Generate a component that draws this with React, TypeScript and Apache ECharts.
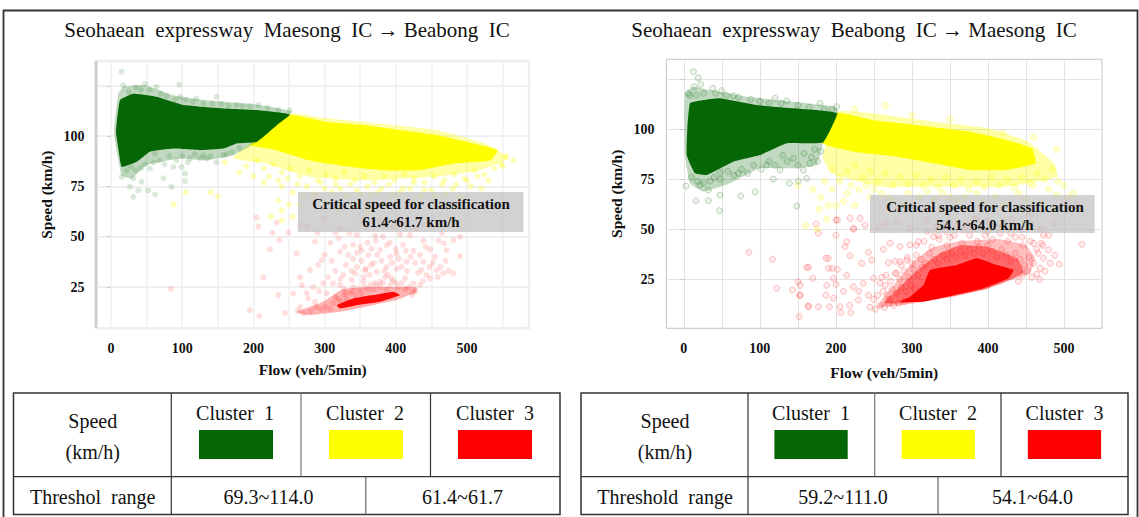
import React, { useEffect, useRef } from "react";
import * as echarts from "echarts";

const GREEN = "#056605";
const YELLOW = "#ffff00";
const RED = "#ff0000";
const SERIF = "'Liberation Serif'";

const titles = ["Seohaean  expressway  Maesong  IC → Beabong  IC", "Seohaean  expressway  Beabong  IC → Maesong  IC"];
const notes = [["Critical speed for classification", "61.4~61.7 km/h"], ["Critical speed for classification", "54.1~64.0 km/h"]];
const clusterNames = ["Cluster  1", "Cluster  2", "Cluster  3"];
const rowHead = [["Speed", "(km/h)"], ["Speed", "(km/h)"]];
const rangeHeads = ["Threshol  range", "Threshold  range"];
const ranges = [["69.3~114.0", "61.4~61.7"], ["59.2~111.0", "54.1~64.0"]];
const xLabelTicks = [0, 100, 200, 300, 400, 500];
const xGridTicks = [0, 50, 100, 150, 200, 250, 300, 350, 400, 450, 500, 550];
const yLabelTicks = [25, 50, 75, 100];
const yGridTicks = [25, 50, 75, 100, 125];

// Left panel: cluster envelopes (flow, speed)
const leftGreenCore = [[12.6,117.8],[31.3,121],[64,119.5],[101.5,115.4],[157.7,113.7],[204.5,112.9],[251.3,110.7],[232.6,105.4],[204.5,97.1],[176.4,96.3],[157.7,93.8],[125,93],[87.5,93.8],[54.7,92.2],[36,87.2],[15,84.7],[10.3,93.8],[7,102.1]];
const leftGreenFringe = [[10.3,121],[17.3,124.5],[48,125.3],[87.5,120.3],[134.3,117.8],[204.5,115.7],[253.6,112],[204.5,97],[171.8,90.5],[134.3,88],[97,88.9],[50,85.6],[29,79],[15,80.6],[4.2,102.1]];
const leftYellowCore = [[253,110.5],[304,107],[355,105.5],[406,103],[457,100.5],[508,96.4],[543,93],[533,88],[482,86.4],[431,83],[380,83],[329,85],[278,88],[232,93],[196,95.5],[212,99.5],[232,106]];
const leftYellowFringe = [[252.6,111.3],[303.6,108.8],[354.6,107],[456.6,103],[528,96],[558.7,89],[518,83],[456.6,79.8],[354.6,78],[278,79.8],[216.8,86.4],[171,89],[201.5,98]];
const leftRedCore = [[317,16],[340,19.3],[368,21],[396.5,22.7],[406,21],[378,17.7],[345,16],[321.6,14.4]];
const leftRedFringe = [[260.8,12.7],[298,17.7],[326,24],[368,25],[406,25],[429,25],[429,22.6],[401,18.5],[368,16],[321.6,12.7],[275,11]];

// Left panel: sparse points
const leftGreenPoints = [[15,132],[48,126],[96,125.6],[17.3,125.3],[148,119.5],[207,115.4],[251,112.9],[97,119.5],[64,124.5],[120,118.7],[176.4,115.4],[31.3,79],[43,77.3],[73.5,79],[104,77.6],[104,81.4],[26.7,74.8],[38.4,73],[52.4,73],[62,71],[85,74.8],[31.3,69.8],[15,79.7],[22,83],[62,91.3],[87.5,84.7],[99.2,84.7],[54.7,83.9],[129.6,90.5],[157.7,90.5],[134.3,88.9],[111,88.9],[25,122],[35,124],[42,123],[55,123],[70,121],[78,120],[90,118],[105,118],[115,117],[130,116],[142,116],[155,116],[165,115],[185,115],[195,115],[220,114],[235,113],[28,85],[34,83],[42,84],[48,86],[60,87],[68,88],[75,86],[82,90],[92,88],[100,90],[108,87],[118,91],[125,89],[140,90],[148,87],[162,91],[170,92],[180,94]];
const leftYellowPoints = [[200,80],[215,77],[240,75],[255,72],[235,68],[265,66],[285,71],[300,74],[315,76],[330,70],[345,73],[360,75],[375,72],[390,76],[410,74],[425,77],[440,73],[465,76],[480,74],[500,78],[515,80],[530,78],[490,70],[455,70],[425,68],[385,66],[345,66],[240,63],[225,60],[140,72],[150,70],[88,66],[105,72],[180,82],[190,85],[160,87],[550,85],[565,88],[215,84],[228,86],[240,82],[252,84],[265,80],[278,83],[290,78],[302,81],[316,79],[328,82],[342,78],[356,80],[370,77],[384,80],[398,78],[412,81],[426,79],[440,77],[454,80],[468,78],[482,81],[496,79],[510,83],[524,81],[538,84],[548,86],[555,90],[205,88],[222,80],[235,78],[248,79],[262,76],[275,75],[295,77],[310,72],[322,74],[336,76],[350,71],[365,71],[380,74],[395,71],[405,72],[420,74],[435,70],[450,73],[470,71],[485,76],[505,75],[520,74],[270,70],[250,66],[300,68],[320,64],[360,62],[240,58],[255,60]];
const leftRedPoints = [[321.6,42.5],[319.7,49.2],[370.8,50.5],[345,50.8],[438.6,48],[467.6,46.7],[448,43.7],[387,45.8],[378,43.4],[361.4,40.9],[401,41.7],[340,39],[296,38.4],[260.8,41.7],[286.5,47.5],[223,43.7],[236.4,48.3],[249,52],[227,52],[232.7,57],[207,55],[204.6,59.6],[214,29.8],[265.4,29.8],[235,21],[256,21.8],[195,13.5],[208.3,10.6],[244.4,12.2],[277,19.3],[291,36],[279.5,33.4],[312,26.8],[326,31],[342.7,31.8],[356.7,33.4],[373,32.6],[387,35],[401,34],[415,37.6],[438.6,37.6],[457.3,33.4],[448,29.3],[480.7,31.8],[466.7,31.8],[424.6,26.8],[412.9,29.3],[394,29.3],[377.8,27.6],[354.4,27.6],[338,28.5],[321.6,26],[302.9,21.8],[286.5,17.7],[265.4,15.2],[424.6,22.6],[436,33.4],[471.4,43.4],[490,40.4],[480.7,48.3],[321.6,54],[396.5,55],[420,50.8],[429,54],[298,59],[265.4,55.8],[275,55],[84,24],[350,45],[330,36],[365,36],[392,40],[410,46],[355,30],[340,25],[370,27],[385,30],[400,27],[330,22],[315,20],[360,47],[345,42],[310,38],[425,43],[455,40],[262,13],[270,12],[280,13],[288,15],[295,14],[302,15],[308,14],[312,17],[318,19],[322,18],[327,21],[331,19],[336,22],[339,23],[344,21],[348,24],[352,22],[356,25],[361,24],[364,26],[369,24],[373,26],[378,25],[382,27],[387,24],[392,26],[396,28],[403,25],[408,27],[413,24],[418,25],[423,21],[428,23],[434,26],[438,28],[443,31],[447,35],[452,37],[459,30],[463,35],[470,38],[474,33],[338,33],[345,35],[352,38],[358,34],[363,31],[369,37],[374,41],[380,38],[384,33],[389,31],[395,37],[400,44],[404,39],[408,35],[416,33],[421,40],[427,37],[431,32],[333,41],[328,45],[340,46],[352,43],[366,44],[372,48],[382,50],[392,47],[406,51],[414,43],[434,41],[442,45],[460,48],[327,24],[322,29],[315,33],[305,30],[298,27],[292,23],[284,25],[275,22],[268,26],[300,41],[290,52],[308,47],[315,52],[335,52],[358,55],[376,58],[410,57],[440,56],[465,52],[490,50]];

// Right panel: cluster envelopes
const rightGreenCore = [[8.2,113],[25.7,114.6],[47.6,115.5],[95.9,112.1],[144,110.5],[201.2,108],[183.6,93.5],[161.7,93],[135.4,93],[100.3,87.1],[65.2,83.8],[30,77.2],[14.7,78],[3.8,87.1],[4.7,100.5]];
const rightGreenFringe = [[1.6,118],[12.6,121.3],[34.5,119.6],[82.7,116.3],[144,113.8],[199,111.3],[203.4,108],[183.6,93.5],[174.8,82.2],[144,80.5],[100.3,80.5],[60.8,73],[25.7,68.8],[8.2,73],[1.6,87]];
const rightYellowCore = [[202,108],[247.4,104.7],[304.8,102.2],[376.6,98.8],[424.4,94.7],[458,90.5],[462.7,83],[424.4,79.7],[376.6,79.7],[328.7,83],[280.9,86.3],[223.4,88.8],[182.8,93]];
const rightYellowFringe = [[202,108.8],[247.4,108],[328.7,103.8],[400.5,100.5],[453,93.8],[486.6,83],[491.4,76.3],[424.4,71.3],[328.7,71.3],[257,71.3],[194.7,78],[182.8,86.3]];
const rightRedCore = [[284.5,13.8],[315.2,13.8],[350.3,16.6],[394.1,20.5],[427,25.5],[433.6,29.6],[411.7,32.1],[385.4,35.5],[359,32.1],[324,29.6],[315.2,22.1],[297.6,16.3]];
const rightRedMid = [[262.5,13],[297.6,13.3],[350.3,16.3],[398.5,20.3],[433.6,25.5],[447,28.8],[438,35.5],[398.5,41.3],[363.4,42],[337,38],[315,32],[293,24.6],[275.7,18]];
const rightRedFringe = [[255,11],[297.6,12.6],[350.3,16],[398.5,20.2],[433.6,25],[455,28],[462,35.5],[450,42],[416,45],[363.4,44],[328.3,41],[302,34],[284.5,26],[262.5,16]];

// Right panel: sparse points
const rightGreenPoints = [[12.6,128.8],[19,125.8],[13.4,121.3],[22.2,122.5],[6,118],[38,120.5],[49.8,119.3],[65.2,116.8],[120,115.5],[135.4,114.2],[179.2,113],[201.2,111.3],[16,64.3],[32.3,64.3],[74.8,66.6],[46.8,59.3],[148.5,61.6],[93.7,68.8],[47.6,67.1],[2.9,71.6],[138.9,73],[117.8,75.1],[161.7,75.5],[150.7,74.1],[71.8,78],[47.6,78.5],[34.5,74.1],[21.3,72.2],[32.3,69.6],[126.6,79.6],[109,82.1],[166,83],[144,85.5],[157.3,79.6],[8,117],[16,117],[26,118],[42,118],[56,117],[72,116],[88,115],[100,114],[112,113],[128,113],[150,112],[165,111],[185,110],[195,110],[10,76],[18,74],[26,73],[40,76],[48,75],[58,79],[66,77],[76,80],[84,78],[92,82],[102,80],[112,84],[120,82],[130,87],[136,84],[150,82],[158,88],[168,86],[176,84],[172,90],[180,89]];
const rightYellowPoints = [[170,70],[180,66],[190,62],[205,74],[215,68],[230,70],[245,66],[200,62],[225,62],[260,68],[275,64],[295,68],[310,66],[340,68],[360,64],[385,68],[410,66],[440,68],[460,72],[480,70],[492,74],[505,66],[150,72],[160,52],[175,50],[265,112],[300,107],[225,110],[350,105],[420,98],[460,96],[490,90],[195,80],[205,76],[215,79],[225,82],[235,76],[245,79],[255,74],[265,78],[275,72],[285,76],[295,73],[305,77],[315,72],[325,75],[335,71],[345,76],[355,72],[365,75],[375,70],[385,74],[395,71],[405,76],[415,72],[425,75],[435,71],[445,76],[455,73],[465,78],[475,75],[485,80],[195,70],[210,64],[220,72],[240,72],[250,70],[270,66],[290,63],[320,69],[330,65],[350,66],[370,66],[395,64],[420,62],[450,65],[470,63],[490,67],[500,72],[512,68],[185,74],[178,60],[188,55]];
const rightRedPoints = [[523.5,42.5],[494,32.6],[464.3,27.6],[457.7,26],[473,35.5],[468.7,30.5],[200,47],[177,48],[174,52.6],[200,54.6],[214.3,43.8],[212,41.3],[243,38.5],[218.7,36.8],[187,35.5],[161.7,31],[169.6,25.5],[190,30.5],[202,30],[196.8,25.5],[188,22],[153,22],[200.3,22.5],[210,19],[187,17],[196.8,15.5],[153,17],[164,11.3],[177,11.3],[191.5,11.3],[205.5,11.3],[206.4,8.3],[219.6,8.3],[218,12],[229.7,14.6],[242.8,17],[223,21.3],[236,23],[249.4,25.5],[260.3,26],[214.3,27],[234,33],[247.2,34.6],[269.1,33.3],[284.5,33.8],[293.3,34.6],[262.5,40],[271.3,43],[284.5,41.3],[297.6,42.2],[308.6,43.8],[328.3,46.3],[218.7,55.5],[231.8,55.5],[223,50.5],[238.4,52],[256,51.3],[264.7,53],[280,53.8],[297.6,50.5],[319.6,54.6],[341.5,53],[367.8,49.6],[392,51.3],[420.5,53.8],[455.5,53],[486.2,53],[455.5,57],[504,63],[517,62],[473,47],[460,43],[479.7,39.7],[85.6,38.5],[116.7,35],[122,20.5],[143,19.7],[150,23.8],[152.6,17],[164,31],[151.7,6.3],[163.6,11.7],[190,35.5],[195,30.5],[223.4,50],[202,54.7],[345,49],[360,52],[380,50],[400,49],[430,48],[445,46],[335,47],[280,28],[265,22],[250,15],[230,19],[270,15],[245,11],[252,10],[258,12],[264,11],[270,13],[276,12],[283,13],[290,14],[255,17],[262,19],[268,17],[274,20],[280,18],[286,21],[292,19],[298,22],[304,20],[258,23],[266,27],[272,24],[278,28],[284,25],[290,29],[296,26],[302,30],[308,27],[313,31],[278,34],[286,32],[294,36],[300,33],[306,37],[312,35],[318,33],[323,38],[329,35],[335,33],[341,37],[346,35],[352,38],[358,36],[364,39],[370,37],[376,40],[382,38],[388,41],[394,38],[400,42],[406,39],[412,36],[418,40],[424,37],[430,34],[436,38],[442,35],[448,32],[454,36],[460,33],[466,38],[452,29],[445,27],[440,24],[306,42],[316,44],[326,41],[336,45],[346,42],[356,47],[366,43],[376,47],[386,44],[396,47],[406,45],[416,48],[426,44],[436,46],[446,42],[456,44],[464,40],[470,43],[320,49],[332,51],[350,46],[372,52],[384,55],[398,54],[412,51],[432,55],[444,50],[470,50],[480,47],[468,25],[475,29],[482,33],[488,37],[472,42]];

const polygonSeries = (pts: number[][], color: string, opacity: number, axis: number, z: number) => ({
  type: "custom",
  coordinateSystem: "cartesian2d",
  xAxisIndex: axis,
  yAxisIndex: axis,
  z,
  silent: true,
  data: pts,
  encode: { x: 0, y: 1 },
  renderItem: (params: any, api: any) =>
    params.dataIndex === 0
      ? {
          type: "polygon",
          shape: { points: pts.map((p) => api.coord(p)), smooth: 0.12 },
          style: { fill: color, opacity },
        }
      : null,
});

const pointSeries = (pts: number[][], fill: string, edge: string, axis: number, z: number) => ({
  type: "scatter",
  xAxisIndex: axis,
  yAxisIndex: axis,
  z,
  silent: true,
  data: pts,
  symbolSize: 6,
  itemStyle: axis === 0 ? { color: fill } : { color: fill, borderColor: edge, borderWidth: 1 },
});

const txt = (x: number, y: number, text: string, size: number, bold = false) => ({
  type: "text",
  x,
  y,
  z: 120,
  style: {
    text,
    fill: "#111",
    textAlign: "center",
    textVerticalAlign: "middle",
    font: `${bold ? "bold " : ""}${size}px ${SERIF}`,
  },
});

const seg = (x1: number, y1: number, x2: number, y2: number, stroke = "#333", lineWidth = 1.2) => ({
  type: "line",
  z: 110,
  shape: { x1, y1, x2, y2 },
  style: { stroke, lineWidth },
});

const swatch = (x: number, width: number, fill: string) => ({
  type: "rect",
  z: 110,
  shape: { x, y: 430, width, height: 29 },
  style: { fill },
});

const tablePanel = (
  x0: number, x1: number, v0: number, v1: number, v2: number, vb: number,
  sw: number[], swW: number, hc: number, cc: number[], rc: number[], i: number,
) => [
  { type: "rect", z: 110, shape: { x: x0, y: 393, width: x1 - x0, height: 121.5 }, style: { fill: "none", stroke: "#333", lineWidth: 1.5 } },
  seg(x0, 476.7, x1, 476.7),
  seg(v0, 393, v0, 514.5),
  seg(v1, 393, v1, 476.7, "#777"),
  seg(v2, 393, v2, 476.7),
  seg(vb, 476.7, vb, 514.5, "#666"),
  swatch(sw[0], swW, GREEN),
  swatch(sw[1], swW, YELLOW),
  swatch(sw[2], swW, RED),
  txt(hc, 421, rowHead[i][0], 20),
  txt(hc, 452, rowHead[i][1], 20),
  txt(hc, 497, rangeHeads[i], 20),
  ...clusterNames.map((n, k) => txt(cc[k], 413, n, 20)),
  txt(rc[0], 497, ranges[i][0], 20),
  txt(rc[1], 497, ranges[i][1], 20),
];

const noteBox = (x: number, y: number, w: number, h: number, lines: string[], cx: number) => [
  { type: "rect", z: 100, shape: { x, y, width: w, height: h }, style: { fill: "rgba(192,192,192,0.72)" } },
  txt(cx, y + 12, lines[0], 15, true),
  txt(cx, y + 30, lines[1], 15, true),
];

const xAxis = (idx: number, min: number, max: number, grid: string, gw: number, gap: number) => ({
  type: "value",
  gridIndex: idx,
  min,
  max,
  name: "Flow (veh/5min)",
  nameLocation: "middle",
  nameGap: gap,
  nameTextStyle: { fontFamily: SERIF, fontWeight: "bold", fontSize: 15.5, color: "#111" },
  axisLine: { show: false },
  axisTick: { show: false, customValues: xGridTicks },
  axisLabel: { customValues: xLabelTicks, margin: 13, fontFamily: SERIF, fontWeight: "bold", fontSize: 14, color: "#111" },
  splitLine: { show: true, lineStyle: { color: grid, width: gw } },
});

const yAxis = (idx: number, min: number, max: number, grid: string, gw: number) => ({
  type: "value",
  gridIndex: idx,
  min,
  max,
  name: "Speed (km/h)",
  nameLocation: "middle",
  nameGap: 42,
  nameTextStyle: { fontFamily: SERIF, fontWeight: "bold", fontSize: 15.5, color: "#111" },
  axisLine: { show: false },
  axisTick: { show: true, length: 4, lineStyle: { color: "#ccc" }, customValues: yGridTicks },
  axisLabel: { customValues: yLabelTicks, margin: 12, fontFamily: SERIF, fontWeight: "bold", fontSize: 14, color: "#111" },
  splitLine: { show: true, lineStyle: { color: grid, width: gw } },
});

const soft = (c: string, a: number) => {
  const rgb = c === GREEN ? "5,102,5" : c === YELLOW ? "255,255,0" : "255,0,0";
  return `rgba(${rgb},${a})`;
};

export default function App() {
  const ref = useRef<HTMLDivElement>(null);
  useEffect(() => {
    const chart = echarts.init(ref.current!, null, { renderer: "svg" });
    chart.setOption({
      animation: false,
      backgroundColor: "#fff",
      grid: [
        { left: 96.4, top: 61, width: 432.6, height: 267.3, show: true, borderColor: "#eeeeee", borderWidth: 2.5 },
        { left: 666.4, top: 59.3, width: 435.6, height: 269, show: true, borderColor: "#c4c4c4", borderWidth: 1 },
      ],
      xAxis: [xAxis(0, -20.5, 587, "#f1f1f1", 1.5, 33), xAxis(1, -22.9, 550, "#e2e2e2", 1, 36)],
      yAxis: [yAxis(0, 4.5, 137.3, "#f0f0f0", 2), yAxis(1, 0.5, 135, "#e2e2e2", 1)],
      series: [
        polygonSeries(leftRedFringe, RED, 0.3, 0, 2),
        pointSeries(leftRedPoints, soft(RED, 0.16), "", 0, 3),
        polygonSeries(leftRedCore, RED, 0.95, 0, 4),
        polygonSeries(leftYellowFringe, YELLOW, 0.35, 0, 5),
        pointSeries(leftYellowPoints, soft(YELLOW, 0.35), "", 0, 6),
        polygonSeries(leftYellowCore, YELLOW, 1, 0, 7),
        polygonSeries(leftGreenFringe, GREEN, 0.25, 0, 8),
        pointSeries(leftGreenPoints, soft(GREEN, 0.18), "", 0, 9),
        polygonSeries(leftGreenCore, GREEN, 1, 0, 10),

        polygonSeries(rightRedFringe, RED, 0.25, 1, 1),
        polygonSeries(rightRedMid, RED, 0.45, 1, 2),
        pointSeries(rightRedPoints, soft(RED, 0.1), soft(RED, 0.28), 1, 3),
        polygonSeries(rightRedCore, RED, 1, 1, 4),
        polygonSeries(rightYellowFringe, YELLOW, 0.35, 1, 5),
        pointSeries(rightYellowPoints, soft(YELLOW, 0.2), soft(YELLOW, 0.4), 1, 6),
        polygonSeries(rightYellowCore, YELLOW, 1, 1, 7),
        polygonSeries(rightGreenFringe, GREEN, 0.25, 1, 8),
        pointSeries(rightGreenPoints, soft(GREEN, 0.1), soft(GREEN, 0.3), 1, 9),
        polygonSeries(rightGreenCore, GREEN, 1, 1, 10),
      ],
      graphic: [
        { type: "polyline", z: 130, shape: { points: [[3.5, 517], [3.5, 10.5], [1137.5, 10.5], [1137.5, 517]] }, style: { fill: "none", stroke: "#333", lineWidth: 1.8 } },
        seg(96, 61, 96, 328, "#cfcfcf", 3),
        txt(287, 30, titles[0], 21),
        txt(854, 30, titles[1], 21),
        ...noteBox(298, 192, 225.6, 40, notes[0], 411),
        ...noteBox(870, 195, 224.7, 38, notes[1], 985),
        ...tablePanel(13.5, 560, 171.3, 301, 430.5, 365.8, [199, 329, 458], 74, 92.7, [235, 365, 495], [268.5, 462.5], 0),
        ...tablePanel(581, 1128, 748, 874.7, 1001, 938, [774.4, 901.6, 1027.8], 73.3, 665, [811, 938, 1064.5], [843, 1032.5], 1),
      ],
    });
    return () => chart.dispose();
  }, []);
  return <div ref={ref} style={{ position: "fixed", left: 0, top: 0, width: 1139, height: 517 }} />;
}
